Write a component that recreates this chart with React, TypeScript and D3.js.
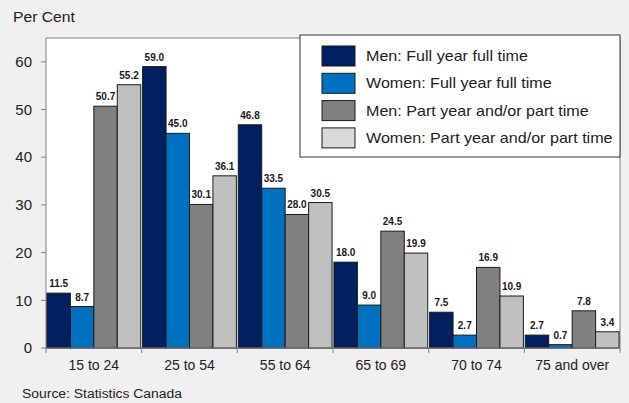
import React from 'react';
import * as d3 from 'd3';

const categories = ['15 to 24', '25 to 54', '55 to 64', '65 to 69', '70 to 74', '75 and over'];
const seriesNames = [
  'Men: Full year full time',
  'Women: Full year full time',
  'Men: Part year and/or part time',
  'Women: Part year and/or part time',
];
const menFull = [11.5, 59.0, 46.8, 18.0, 7.5, 2.7];
const womenFull = [8.7, 45.0, 33.5, 9.0, 2.7, 0.7];
const menPart = [50.7, 30.1, 28.0, 24.5, 16.9, 7.8];
const womenPart = [55.2, 36.1, 30.5, 19.9, 10.9, 3.4];
const yTicks = [0, 10, 20, 30, 40, 50, 60];

const colors = ['#002060', '#0070c0', '#808080', '#c0c0c0'];
const font = 'Arial, "Liberation Sans", sans-serif';

const W = 629;
const H = 403;
const left = 46;
const right = 620;
const top = 38;
const bottom = 348;

const App = () => {
  const series = [menFull, womenFull, menPart, womenPart];
  const x = d3.scaleBand().domain(categories).range([left, right]).paddingInner(0).paddingOuter(0);
  const inner = d3.scaleBand().domain(d3.range(4).map(String)).range([0, x.bandwidth()]).paddingInner(0).paddingOuter(0.04);
  const y = d3.scaleLinear().domain([0, 65]).range([bottom, top]);

  return (
    <svg width={W} height={H} style={{ position: 'absolute', left: 0, top: 0, display: 'block' }} fontFamily={font}>
      <rect x={0} y={0} width={W} height={H} fill="#f0f0f0" />
      <rect x={left} y={top} width={right - left} height={bottom - top} fill="#ffffff" stroke="#808080" strokeWidth={1} />
      <g transform="translate(13,22) scale(1.12,1)">
        <text x={0} y={0} fontSize={14} fill="#222">Per Cent</text>
      </g>

      {yTicks.map(t => (
        <g key={t}>
          <line x1={left - 5} x2={left} y1={y(t)} y2={y(t)} stroke="#808080" />
          <text x={32} y={y(t)} dy="0.35em" fontSize={15} textAnchor="end" fill="#222">{t}</text>
        </g>
      ))}

      {categories.map((c, i) => (
        <g key={c}>
          {series.map((s, j) => {
            const bx = (x(c) as number) + (inner(String(j)) as number);
            const v = s[i];
            return (
              <g key={j}>
                <rect x={bx} y={y(v)} width={inner.bandwidth()} height={bottom - y(v)} fill={colors[j]} stroke="#1a1a1a" strokeWidth={1} />
                <text x={bx + inner.bandwidth() / 2} y={y(v) - 6} fontSize={10} fontWeight="bold" textAnchor="middle" fill="#1a1a1a">{v.toFixed(1)}</text>
              </g>
            );
          })}
          <text x={(x(c) as number) + x.bandwidth() / 2} y={370} fontSize={14} textAnchor="middle" fill="#222">{c}</text>
        </g>
      ))}

      <line x1={left} x2={right} y1={bottom} y2={bottom} stroke="#808080" />
      {d3.range(categories.length + 1).map(i => {
        const tx = left + i * x.step();
        return <line key={i} x1={tx} x2={tx} y1={bottom} y2={bottom + 5} stroke="#808080" />;
      })}

      <g>
        <rect x={300} y={35} width={320} height={122} fill="#ffffff" stroke="#333" strokeWidth={1} />
        {seriesNames.map((n, j) => (
          <g key={n} transform={`translate(322,${46 + j * 27.3})`}>
            <rect x={0} y={0} width={33} height={20} fill={j === 3 ? '#d9d9d9' : colors[j]} stroke="#1a1a1a" />
            <g transform="translate(44,10) scale(1.15,1)">
              <text x={0} y={0} dy="0.35em" fontSize={14} fill="#222">{n}</text>
            </g>
          </g>
        ))}
      </g>

      <g transform="translate(22,398) scale(1.16,1)">
        <text x={0} y={0} fontSize={12} fill="#222">Source: Statistics Canada</text>
      </g>
    </svg>
  );
};

export default App;
